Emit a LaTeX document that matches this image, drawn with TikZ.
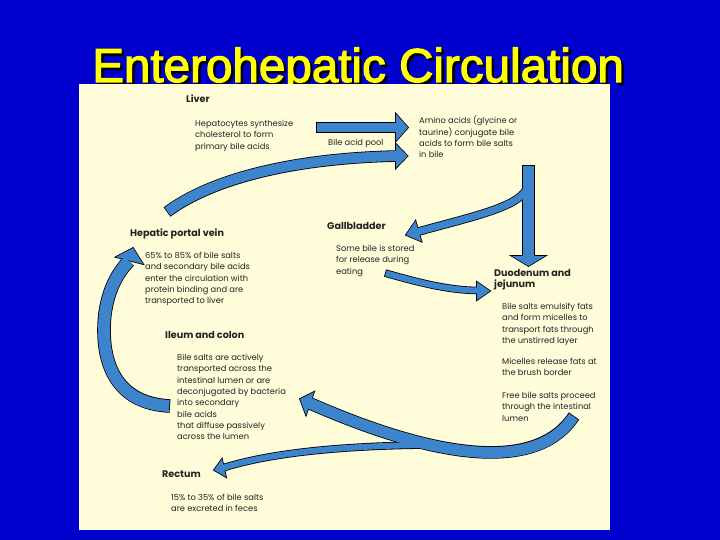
\documentclass[tikz,border=0pt]{standalone}
\usepackage{fontspec}
\setmainfont{Liberation Sans}
\newfontfamily\bodyf{Poppins}
\newfontfamily\ttlf[FakeBold=2.5]{Liberation Sans}
\definecolor{bg}{RGB}{0,0,204}
\definecolor{panel}{RGB}{255,252,217}
\definecolor{arr}{RGB}{60,132,204}
\definecolor{txt}{RGB}{35,35,35}
\definecolor{ttl}{RGB}{255,255,0}
\begin{document}
\begin{tikzpicture}[x=1pt,y=-1pt,
  body/.style={anchor=north west, inner sep=0pt, align=left, text=txt, font=\bodyf\fontsize{8.3}{11.3}\selectfont},
  hd/.style={anchor=north west, inner sep=0pt, align=left, text=txt, font=\bodyf\bfseries\fontsize{9.6}{11.3}\selectfont},
  ol/.style={draw=black, line width=#1},
  bl/.style={draw=arr, line width=#1},
  hol/.style={draw=black, line width=1.6pt, line join=miter},
  hbl/.style={fill=arr},
  ttlstyle/.style={anchor=base west, inner sep=0pt, font=\ttlf\fontsize{47.6}{50}\selectfont}
]
\useasboundingbox (0,0) rectangle (720,540);
\fill[bg] (0,0) rectangle (720,540);
\node[ttlstyle, text=ttl] (title) at (92,82)
  {\rlap{\hspace*{2.5pt}\raisebox{-2.5pt}{\color{black}Enterohepatic Circulation}}Enterohepatic Circulation};
\fill[panel] (79,84) rectangle (610,530);

% arrow paths
\def\pA{(316,127.5) -- (399,127.5)}
\def\hA{(396,114) -- (408,127.5) -- (396,141) -- cycle}
\def\pB{(167,212) .. controls (210,180) and (290,158) .. (399,156)}
\def\hB{(396,144) -- (407.5,156) -- (396,168) -- cycle}
\def\pC{(528.5,165) -- (528.5,259)}
\def\hC{(512,256) -- (528.5,266) -- (545,256) -- cycle}
\def\pD{(528,186) .. controls (522,207) and (470,217) .. (417,232)}
\def\hD{(415.5,221) -- (406,235) -- (421.5,241.5) -- cycle}
\def\pE{(385,273) .. controls (420,283) and (450,290.5) .. (479,290.5)}
\def\hE{(477,282) -- (490,291) -- (477,300) -- cycle}
\def\pF{(574,416) .. controls (540,468) and (450,465) .. (308,402.5)}
\def\hF{(314,392) -- (300,399) -- (306,415) -- cycle}
\def\pG{(425,445) .. controls (340,446) and (270,453) .. (222.5,468)}
\def\hG{(222,459) -- (214,470) -- (226,477) -- cycle}
\def\pH{(170,406) .. controls (125,404) and (104,375) .. (104,330) .. controls (104,300) and (114,276) .. (129,261)}
\def\hH{(116,257) -- (133,248) -- (143,264) -- cycle}

% black outline layer
\draw[ol=10.6] \pA;  \draw[hol] \hA;
\draw[ol=11.6] \pB;  \draw[hol] \hB;
\draw[ol=12.6] \pC;  \draw[hol] \hC;
\draw[ol=8.6]  \pD;  \draw[hol] \hD;
\draw[ol=7.6]  \pE;  \draw[hol] \hE;
\draw[ol=12.6] \pF;  \draw[hol] \hF;
\draw[ol=7.6]  \pG;  \draw[hol] \hG;
\draw[ol=13.6] \pH;  \draw[hol] \hH;

% blue fill layer
\draw[bl=9, shorten <=0.8pt]  \pA;  \fill[hbl] \hA;
\draw[bl=10, shorten <=0.8pt] \pB;  \fill[hbl] \hB;
\draw[bl=11, shorten <=0.8pt] \pC;  \fill[hbl] \hC;
\draw[bl=7]                   \pD;  \fill[hbl] \hD;
\draw[bl=6, shorten <=0.8pt]  \pE;  \fill[hbl] \hE;
\draw[bl=11, shorten <=0.8pt] \pF;  \fill[hbl] \hF;
\draw[bl=6]                   \pG;  \fill[hbl] \hG;
\draw[bl=12, shorten <=0.8pt] \pH;  \fill[hbl] \hH;

% texts
\node[hd] (liver) at (186,95) {Liver};
\node[body] (hepat) at (195,120) {Hepatocytes synthesize\\cholesterol to form\\primary bile acids};
\node[body] (pool) at (328,139) {Bile acid pool};
\node[body] (amino) at (419,116) {Amino acids (glycine or\\taurine) conjugate bile\\acids to form bile salts\\in bile};
\node[hd] (gall) at (327,222) {Gallbladder};
\node[body] (gallt) at (336,245) {Some bile is stored\\for release during\\eating};
\node[hd] (duo) at (494,269) {Duodenum and\\jejunum};
\node[body] (duot1) at (502,303) {Bile salts emulsify fats\\and form micelles to\\transport fats through\\the unstirred layer};
\node[body] (duot2) at (502,358) {Micelles release fats at\\the brush border};
\node[body] (duot3) at (502,392) {Free bile salts proceed\\through the intestinal\\lumen};
\node[hd] (hpv) at (130,229) {Hepatic portal vein};
\node[body] (hpvt) at (145,252) {65\% to 85\% of bile salts\\and secondary bile acids\\enter the circulation with\\protein binding and are\\transported to liver};
\node[hd] (ileum) at (165,331) {Ileum and colon};
\node[body] (ileumt) at (177,354) {Bile salts are actively\\transported across the\\intestinal lumen or are\\deconjugated by bacteria\\into secondary\\bile acids\\that diffuse passively\\across the lumen};
\node[hd] (rectum) at (162,471) {Rectum};
\node[body] (rectt) at (171,494) {15\% to 35\% of bile salts\\are excreted in feces};
\end{tikzpicture}
\end{document}
